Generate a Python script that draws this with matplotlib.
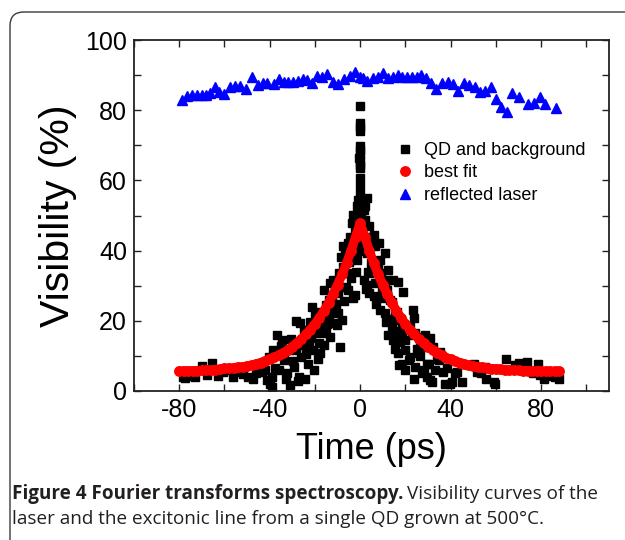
import matplotlib
matplotlib.use("Agg")
import matplotlib.pyplot as plt
from matplotlib.patches import FancyBboxPatch
from matplotlib.ticker import MultipleLocator

# ---- data ----
laser_time = [-78.8, -76.6, -74.4, -72.2, -70.0, -68.1, -66.3, -64.4, -62.2, -60.0,
              -57.5, -55.3, -53.0, -50.4, -47.9, -45.4, -43.0, -41.0, -38.3, -36.1,
              -33.9, -31.7, -29.5, -27.3, -25.1, -23.6, -21.4, -19.2, -17.0, -14.7,
              -12.1, -9.6, -7.1, -4.4, -2.2, 0.0, 1.2, 3.2, 5.6, 7.7,
              9.9, 12.1, 14.3, 16.5, 18.7, 20.6, 22.8, 25.0, 26.8, 28.9,
              31.4, 33.6, 36.1, 38.6, 40.9, 43.2, 45.9, 48.3, 50.8, 53.0,
              55.2, 57.7, 59.9, 62.3, 64.8, 67.3, 70.0, 74.4, 76.9, 79.5,
              81.7, 86.6]
laser_vis = [82.9, 84.0, 84.3, 84.4, 84.4, 84.4, 84.8, 86.7, 85.3, 84.5,
             86.7, 86.9, 86.9, 85.9, 89.4, 87.2, 87.8, 87.8, 87.6, 88.8,
             87.9, 87.9, 88.1, 88.3, 88.8, 88.6, 87.8, 89.7, 89.5, 90.3,
             88.1, 87.5, 88.8, 89.7, 91.0, 89.4, 89.1, 88.4, 89.1, 89.4,
             90.7, 89.1, 89.5, 90.0, 89.4, 89.4, 89.4, 89.4, 90.0, 89.1,
             87.8, 85.9, 87.8, 88.1, 87.5, 85.6, 87.8, 87.2, 86.7, 85.3,
             85.6, 86.5, 83.1, 81.0, 79.6, 84.8, 83.7, 81.7, 82.1, 83.7,
             81.9, 80.5]

fit_time = [-80, -78, -76, -74, -72, -70, -68, -66, -64, -62, -60, -58, -56, -54,
            -52, -50, -48, -46, -44, -42, -40, -38, -36, -34, -32, -30, -28, -26,
            -24, -22, -20, -18, -16, -14, -12, -10, -8, -6, -4, -2, 0,
            2, 4, 6, 8, 10, 12, 14, 16, 18, 20, 22, 24, 26, 28, 30, 32, 34, 36,
            38, 40, 42, 44, 46, 48, 50, 52, 54, 56, 58, 60, 62, 64, 66, 68, 70,
            72, 74, 76, 78, 80, 82, 84, 86, 88]
fit_vis = [5.7, 5.7, 5.7, 5.8, 5.8, 5.9, 5.9, 6.0, 6.1, 6.2, 6.5, 6.5, 6.6, 6.8,
           6.9, 7.1, 7.4, 7.7, 8.1, 8.6, 9.2, 9.6, 10.2, 10.9, 11.7, 12.6, 13.7, 14.8,
           16.1, 17.5, 19.1, 20.9, 22.9, 25.1, 27.6, 30.3, 33.2, 36.5, 40.0, 44.0, 47.8,
           44.0, 40.0, 36.5, 33.2, 30.3, 27.6, 25.1, 22.9, 20.9, 19.1, 17.5, 16.1, 14.8,
           13.7, 12.6, 11.7, 10.9, 10.2, 9.5, 9.0, 8.5, 8.1, 7.7, 7.4, 7.1, 6.9, 6.7,
           6.5, 6.4, 6.3, 6.2, 6.1, 6.0, 5.9, 5.9, 5.8, 5.8, 5.7, 5.7, 5.7, 5.6, 5.6,
           5.6, 5.6]

qd_time = [-78.2, -77.4, -75.2, -74.5, -73.0, -70.1, -67.9, -65.5, -62.7, -60.5,
           -58.0, -56.1, -54.5, -53.0, -52.0, -49.5, -47.3, -46.0, -44.5, -43.6,
           -42.0, -41.4,
           -40.5, -40.0, -39.2, -39.0, -38.5, -37.8, -36.8, -35.9, -35.2, -34.5,
           -33.8, -33.0, -32.3, -31.6, -31.0, -30.4, -29.8, -29.4, -28.6, -28.2,
           -27.6, -27.2, -26.6, -26.0, -25.4, -25.0, -24.4, -24.0, -23.5, -23.0,
           -22.6, -22.0, -21.6, -21.2, -20.8, -20.3, -19.8, -19.3, -18.8, -18.4,
           -18.0, -17.6, -17.0, -16.6, -16.2, -15.8, -15.3, -14.9, -14.5, -14.0,
           -13.8, -13.4, -13.2, -12.8, -12.5, -12.2, -11.8, -11.3, -11.0, -10.6,
           -10.3, -9.9, -9.6, -9.4, -9.0, -8.8, -8.4, -8.1, -7.8, -7.4,
           -7.0, -6.6, -6.3, -5.8, -5.4, -5.2, -4.8, -4.4, -4.0, -3.7,
           -3.4, -3.0, -2.8, -2.5, -2.2, -1.8, -1.5, -1.3, -0.8, -0.6,
           -0.3, -0.3, -0.2, -0.3, -0.3, -0.2, -0.3, -0.4, -0.2, -0.3,
           -0.3, -0.2, -0.3, 0.0, 0.3, 0.5,
           0.7, 1.2, 1.5, 1.5, 2.2, 2.2, 2.2, 2.6, 2.9, 2.9,
           2.9, 3.4, 3.7, 3.7, 4.4, 4.8, 5.2, 5.9, 6.3, 6.6,
           6.6, 7.2, 7.7, 8.1, 8.6, 8.9, 9.3, 9.6, 10.2, 10.8,
           11.1, 11.1, 11.5, 11.8, 12.5, 12.5, 12.5, 13.3, 13.6, 14.0,
           14.0, 14.7, 14.7, 15.2, 15.5, 15.9, 16.2, 16.9, 16.9, 16.9,
           17.3, 17.7, 18.4, 18.4, 18.4, 19.1, 19.9, 19.9, 19.9,
           20.7, 21.4, 22.1, 22.1, 22.9, 23.5, 23.6, 23.6, 24.3, 24.3,
           25.0, 25.8, 25.8, 26.5, 26.5, 27.3, 28.0, 28.8, 28.8, 29.5,
           29.5, 30.2, 31.0, 31.0, 31.7, 32.4, 33.2, 33.9, 34.7, 35.4,
           36.5, 37.6, 38.5, 39.8, 40.6, 42.1, 42.8, 45.0,
           48.0, 50.2, 51.6, 53.2, 55.3, 55.4, 59.0, 59.8, 64.3, 68.6,
           70.2, 71.5, 73.9, 76.2, 78.4, 79.7, 81.4, 84.4, 86.0, 88.0]
qd_vis = [4.0, 3.8, 4.2, 4.8, 4.0, 7.1, 4.5, 7.9, 4.3, 5.5,
          6.0, 4.0, 5.4, 6.4, 4.8, 4.0, 3.5, 5.0, 6.2, 5.4,
          6.0, 3.0,
          9.7, 2.1, 4.0, 1.0, 11.6, 6.5, 16.0, 5.9, 12.8, 14.6,
          8.8, 3.5, 5.0, 11.6, 1.6, 14.9, 8.5, 6.9, 11.6, 20.0,
          2.8, 4.0, 19.4, 9.7, 13.0, 17.4, 3.5, 10.5, 14.5, 7.8,
          12.6, 19.7, 15.0, 24.0, 11.6, 6.0, 22.1, 16.4, 9.0, 22.5,
          13.8, 10.7, 18.3, 21.2, 28.8, 13.1, 16.4, 24.5, 19.0, 21.1,
          25.9, 30.7, 15.4, 23.5, 26.9, 31.6, 19.5, 31.2, 29.7, 24.8,
          18.8, 27.8, 22.1, 33.6, 29.7, 12.6, 38.3, 20.2, 35.4, 41.2,
          25.5, 39.3, 29.7, 33.5, 42.1, 28.8, 36.8, 44.0, 32.1, 47.8,
          26.4, 50.2, 39.2, 27.4, 45.4, 34.0, 52.6, 37.3, 54.5, 42.0,
          81.3, 76.4, 75.2, 74.0, 69.7, 68.6, 67.6, 66.5, 65.6, 64.5,
          63.4, 60.7, 58.3, 56.0, 50.5, 47.0,
          45.4, 40.0, 51.6, 31.6, 48.8, 42.1, 52.6, 29.2, 55.0, 39.3,
          30.2, 34.0, 46.9, 27.8, 44.0, 36.5, 33.5, 44.5, 27.0, 41.2,
          30.7, 24.9, 35.8, 42.1, 37.4, 23.0, 33.6, 29.2, 26.5, 31.0,
          39.3, 22.1, 19.7, 28.8, 34.5, 31.6, 15.9, 26.0, 20.5, 25.4,
          18.3, 31.6, 14.5, 22.1, 12.1, 17.0, 22.6, 31.1, 20.2, 10.7,
          7.4, 14.0, 19.2, 16.4, 7.8, 28.3, 11.6, 14.5, 6.0,
          17.8, 8.8, 18.3, 9.7, 15.9, 23.1, 20.7, 3.5, 6.9, 16.4,
          12.0, 15.4, 10.7, 14.5, 10.0, 5.0, 6.0, 12.6, 15.9, 7.8,
          4.0, 7.8, 15.0, 3.0, 2.6, 12.6, 6.0, 9.2, 8.8, 11.1,
          5.5, 2.1, 6.5, 2.1, 2.6, 5.0, 5.4, 2.6,
          7.3, 7.8, 5.4, 5.0, 6.9, 3.5, 2.6, 2.1, 9.0, 7.3,
          7.9, 7.8, 8.2, 5.0, 7.6, 4.5, 3.5, 4.2, 4.0, 3.4]

# ---- figure ----
W, H, DPI = 625, 540, 100
fig = plt.figure(figsize=(W / DPI, H / DPI), dpi=DPI)
plt.rcParams['font.family'] = ['Liberation Sans', 'DejaVu Sans']
plt.rcParams['axes.unicode_minus'] = False

# rounded frame around the figure panel
frame = FancyBboxPatch((10 / W, -20 / H), 640 / W, (H - 12 + 20) / H,
                       boxstyle="round,pad=0,rounding_size=0.022",
                       transform=fig.transFigure, fill=False,
                       edgecolor="#3a3a3a", linewidth=1.0,
                       mutation_aspect=W / H)
fig.patches.append(frame)

ax = fig.add_axes([134 / W, 1 - 391 / H, (609 - 134) / W, (391 - 40) / H])

ax.plot(qd_time, qd_vis, linestyle="none", marker="s", markersize=5.4,
        color="black", label="QD and background", zorder=2)
ax.plot(fit_time, fit_vis, color="#ff0000", linewidth=6.6,
        solid_joinstyle="round", solid_capstyle="round", zorder=3)
ax.plot(fit_time, fit_vis, linestyle="none", marker="o", markersize=6.8,
        color="#ff0000", label="best fit", zorder=3)
ax.plot(laser_time, laser_vis, linestyle="none", marker="^", markersize=7,
        color="#0000ff", label="reflected laser", zorder=4)

ax.set_xlim(-100, 110)
ax.set_ylim(0, 100)
ax.xaxis.set_major_locator(MultipleLocator(40))
ax.xaxis.set_minor_locator(MultipleLocator(20))
ax.yaxis.set_major_locator(MultipleLocator(20))
ax.yaxis.set_minor_locator(MultipleLocator(10))
ax.tick_params(which="both", direction="in", top=True, right=True,
               length=5, width=1.0, colors="#222222", labelcolor="black")
ax.tick_params(labelsize=18, pad=5)
for s in ax.spines.values():
    s.set_linewidth(1.3)
    s.set_color("#222222")

ax.set_xlabel("Time (ps)", fontsize=26, labelpad=7)
ax.set_ylabel("Visibility (%)", fontsize=29.5, labelpad=6)

ax.legend(loc="upper right", bbox_to_anchor=(0.966, 0.73), frameon=False,
          fontsize=13, handletextpad=0.45, labelspacing=0.3,
          handlelength=1.2, borderaxespad=0)

# caption
cap_color = "#231f20"
cap_size = 13.6
fig.canvas.draw()
r = fig.canvas.get_renderer()
t1 = fig.text(12 / W, 1 - 499 / H, "Figure 4 Fourier transforms spectroscopy.",
              fontsize=cap_size, fontweight="bold", family="Open Sans",
              color=cap_color, va="baseline")
bb = t1.get_window_extent(r)
fig.text(bb.x1 / W + 4 / W, 1 - 499 / H, "Visibility curves of the",
         fontsize=cap_size, family="Open Sans", color=cap_color, va="baseline")
fig.text(12 / W, 1 - 524 / H,
         "laser and the excitonic line from a single QD grown at 500\u00b0C.",
         fontsize=cap_size, family="Open Sans", color=cap_color, va="baseline")

fig.savefig("out.png", dpi=DPI)
